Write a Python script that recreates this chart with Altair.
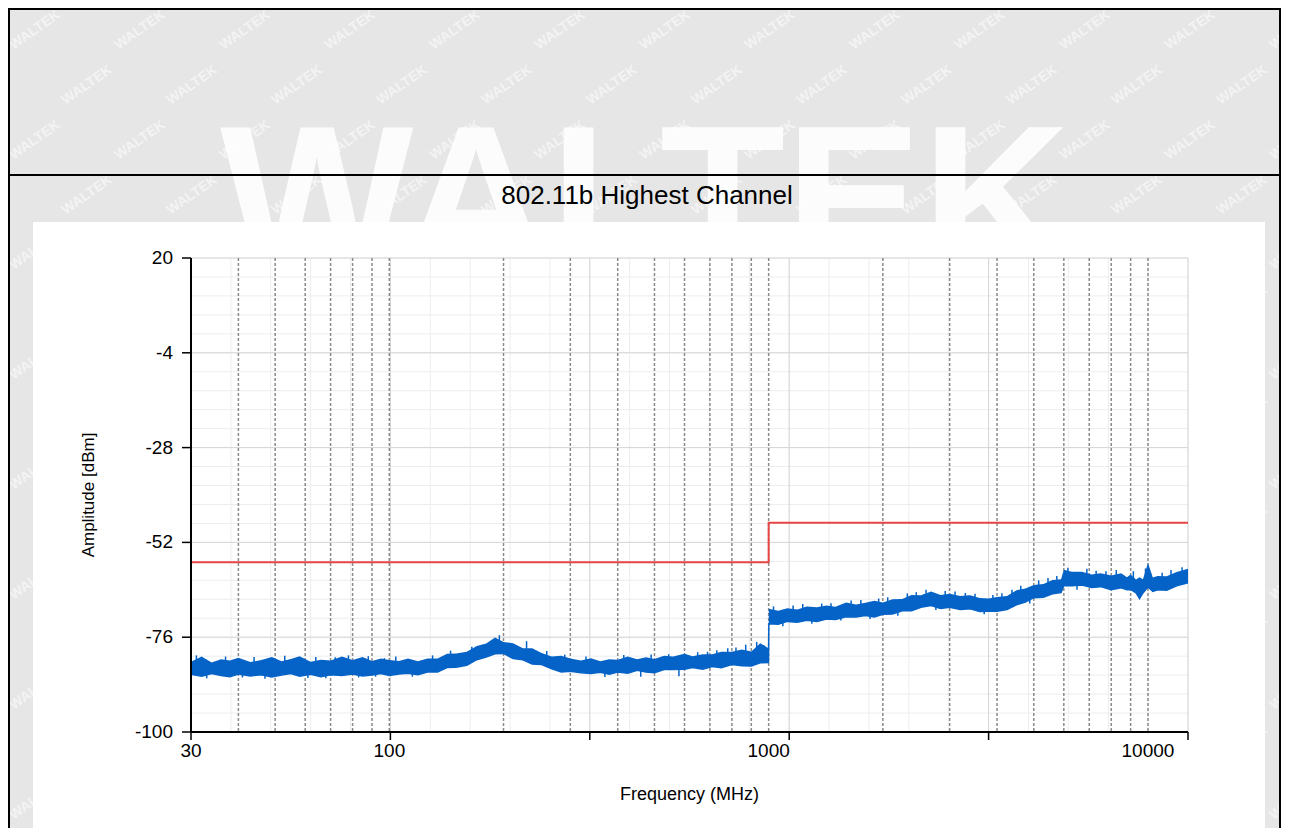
import altair as alt
import pandas as pd

# ---------------- data ----------------
FREQ_A = [30, 32, 34, 36, 38, 40, 43, 46, 49, 52, 55, 58, 62, 66, 70, 75, 80, 85, 90, 95, 100]
HI_A = [-82.2, -80.9, -82.4, -81.6, -81.9, -81.2, -82.3, -81.8, -81.0, -82.1, -81.5, -80.8,
        -82.2, -81.7, -81.9, -80.9, -81.8, -81.0, -82.0, -81.4, -81.8]
LO_A = [-85.4, -85.9, -85.2, -85.7, -86.0, -85.3, -85.8, -85.5, -86.1, -85.6, -85.2, -85.9,
        -85.4, -86.0, -85.5, -85.7, -85.3, -85.8, -85.6, -85.2, -85.7]

FREQ_B = [106, 112, 119, 126, 134, 142, 150, 160, 170, 180, 190, 200, 212, 225, 238, 252, 268,
          284, 300, 320, 340, 360, 380, 400, 425, 450, 475, 500, 530, 560, 600, 630, 670, 710,
          750, 800, 850, 900, 950, 999]
HI_B = [-82.0, -81.4, -82.1, -81.4, -81.4, -80.2, -80.1, -79.7, -78.2, -77.6, -76.1, -77.2,
        -77.5, -78.8, -78.8, -80.0, -80.9, -80.7, -81.4, -81.9, -81.3, -82.1, -81.6, -81.7,
        -80.9, -81.6, -81.1, -81.5, -80.7, -80.9, -80.2, -80.8, -80.3, -80.3, -79.7, -79.7,
        -79.1, -79.6, -77.5, -78.8]
LO_B = [-85.3, -85.1, -85.5, -84.8, -84.8, -83.7, -83.6, -83.1, -81.7, -81.0, -80.2, -80.1,
        -81.4, -81.7, -82.8, -82.9, -84.0, -84.8, -84.6, -85.0, -85.2, -84.9, -85.4, -84.8,
        -85.1, -84.4, -84.8, -85.0, -84.2, -84.2, -84.1, -83.7, -84.1, -83.4, -83.7, -82.9,
        -83.2, -83.3, -82.5, -82.4]

FREQ_C = [1001, 1060, 1120, 1190, 1260, 1340, 1420, 1500, 1600, 1700, 1800, 1900, 2000, 2120,
          2250, 2380, 2520, 2680, 2840, 3000, 3200, 3400, 3600, 3800, 4000, 4250, 4500, 4750,
          5000, 5300, 5600, 5900, 6000, 6300, 6700, 7100, 7500, 8000, 8500, 8800, 9000, 9300,
          9500, 9700, 10000, 10300, 10600, 11200, 11900, 12750]
HI_C = [-68.8, -69.3, -68.7, -69.0, -68.2, -68.4, -68.0, -68.3, -67.2, -67.7, -67.3, -66.8,
        -67.2, -66.4, -66.3, -65.3, -65.4, -64.4, -65.3, -65.0, -65.6, -65.4, -66.1, -66.2,
        -65.8, -65.6, -64.1, -63.7, -62.8, -62.5, -61.5, -61.3, -58.9, -59.4, -59.4, -60.1,
        -59.8, -60.4, -59.8, -60.8, -60.1, -61.4, -60.8, -61.3, -57.2, -60.9, -60.5, -60.6,
        -59.5, -58.7]
LO_C = [-72.6, -72.7, -72.0, -72.2, -71.7, -72.0, -71.4, -71.5, -70.8, -70.9, -70.5, -70.9,
        -70.2, -70.1, -69.3, -69.3, -68.4, -68.0, -68.7, -68.4, -69.0, -68.8, -69.5, -69.4,
        -69.4, -69.0, -67.8, -67.1, -66.0, -65.9, -65.0, -64.7, -62.9, -63.0, -62.8, -63.4,
        -63.2, -64.0, -63.5, -64.0, -63.9, -64.8, -66.2, -64.8, -63.3, -64.4, -64.0, -64.1,
        -63.0, -62.2]

# short noise spikes seen on the trace edges
SPIKE_F = [31, 33, 37, 41, 44, 47, 53, 57, 61, 64, 68, 72, 78, 83, 88, 92, 97,
           104, 115, 130, 145, 165, 195, 230, 260, 290, 330, 370, 415, 460, 490, 545, 580, 650,
           690, 730, 780, 820, 870, 930, 970,
           1030, 1090, 1160, 1230, 1300, 1380, 1460, 1550, 1650, 1750, 1850, 1950, 2060, 2190,
           2320, 2450, 2600, 2760, 2920, 3100, 3300, 3500, 3700, 3900, 4120, 4380, 4620, 4880,
           5150, 5450, 5750, 6150, 6500, 6900, 7300, 7750, 8250, 9150, 9850, 10150, 10900, 11500,
           12300]
SPIKE_FROM = [-83.8, -83.8, -83.8, -83.8, -83.8, -83.8, -83.8, -83.8, -83.8, -83.8, -83.8,
              -83.8, -83.8, -83.8, -83.8, -83.8, -83.8,
              -83.6, -83.5, -83.1, -82.6, -81.3, -78.5, -80.0, -82.0, -83.0, -83.5, -83.4,
              -83.2, -83.1, -83.0, -82.7, -82.6, -82.2, -82.2, -81.9, -81.7, -81.5, -81.3,
              -81.1, -80.9,
              -70.9, -70.7, -70.5, -70.3, -70.1, -69.9, -69.7, -69.5, -69.3, -69.1, -68.9, -68.7,
              -68.4, -68.1, -67.6, -67.1, -66.6, -66.5, -66.8, -67.0, -67.3, -67.5, -67.8, -67.8,
              -67.3, -66.6, -65.7, -64.9, -64.2, -63.7, -63.2, -61.1, -61.2, -61.4, -61.7, -62.0,
              -62.0, -62.0, -62.0, -62.6, -62.3, -61.8, -60.9]
SPIKE_TO = [-80.6, -86.4, -80.9, -86.2, -81.0, -86.5, -80.7, -81.2, -86.3, -81.0, -86.4,
            -81.1, -80.6, -86.2, -80.8, -86.0, -81.3,
            -80.9, -86.0, -80.6, -79.4, -78.4, -75.5, -77.0, -79.5, -80.4, -80.9, -86.1,
            -80.5, -86.0, -80.4, -80.3, -85.9, -79.8, -79.7, -79.3, -78.8, -78.6, -77.9,
            -77.2, -78.0,
            -68.2, -73.2, -68.0, -67.6, -72.6, -67.5, -67.4, -71.8, -66.7, -66.6, -71.4, -66.2,
            -65.9, -70.6, -64.9, -64.6, -64.0, -69.1, -64.3, -64.4, -64.8, -65.0, -70.2, -65.3,
            -64.9, -64.0, -63.0, -67.5, -61.6, -61.0, -60.5, -58.4, -64.0, -58.7, -59.2, -59.3,
            -59.0, -59.3, -58.6, -59.8, -59.7, -59.0, -58.3]

LIMIT_FREQ = [30, 1000, 1000, 12750]
LIMIT_DBM = [-57, -57, -47, -47]

X_LABELS = [30, 100, 1000, 10000]
X_LABEL_TEXT = ["30", "100", "1000", "10000"]
Y_LABELS = [20, -4, -28, -52, -76, -100]
Y_LABEL_TEXT = ["20", "-4", "-28", "-52", "-76", "-100"]
DASHED = [40, 50, 60, 70, 80, 90, 100, 200, 300, 400, 500, 600, 700, 800, 900, 1000,
          2000, 3000, 4000, 5000, 6000, 7000, 8000, 9000, 10000]

TITLE = "802.11b Highest Channel"
X_TITLE = "Frequency (MHz)"
Y_TITLE = "Amplitude [dBm]"

# ---------------- layout ----------------
X_MIN, X_MAX = 30, 12750
Y_MIN, Y_MAX = -100, 20
OX, OY = 191, 258            # plot origin on the page
W, H = 997, 474              # plot area
PAD = {"left": OX - 8, "top": OY - 8, "right": 1281 - (OX + W), "bottom": 828 - (OY + H)}

ratio = (X_MAX / X_MIN) ** (1 / 5)
x_major = [X_MIN * ratio ** k for k in range(6)]
x_minor = [X_MIN * ratio ** (k / 5) for k in range(26)]
y_major = [Y_MIN + 24 * k for k in range(6)]
y_minor = [Y_MIN + 4.8 * k for k in range(26)]

xs = alt.Scale(type="log", domain=[X_MIN, X_MAX], nice=False)
ys = alt.Scale(domain=[Y_MIN, Y_MAX], nice=False, zero=False)

trace = pd.DataFrame({"f": FREQ_A + FREQ_B + FREQ_C,
                      "lo": LO_A + LO_B + LO_C,
                      "hi": HI_A + HI_B + HI_C})
spikes = pd.DataFrame({"f": SPIKE_F, "a": SPIKE_FROM, "b": SPIKE_TO})
limit = pd.DataFrame({"f": LIMIT_FREQ, "v": LIMIT_DBM})

# watermark lattice: page pixels converted to the chart's data space
def page_to_data(px, py):
    fx = X_MIN * ratio ** ((px - OX) / (W / 5))
    vy = Y_MAX - (py - OY) * (Y_MAX - Y_MIN) / H
    return fx, vy

wm = []
for j in range(16):
    for i in range(-1, 14):
        fx, vy = page_to_data(35 + i * 105 + (j % 2) * 52, 30 + j * 55)
        wm.append({"wf": fx, "wv": vy})
wm = pd.DataFrame(wm)

FONT = "Liberation Sans"
BLUE = "#0563c8"

def one():
    return alt.Chart(pd.DataFrame({"a": [0]}))

wm_small = alt.Chart(wm).mark_text(
    text="WALTEK", angle=325, fontSize=14, fontWeight="bold", font=FONT,
    color="white", opacity=0.55
).encode(x=alt.X("wf:Q", scale=xs, axis=None), y=alt.Y("wv:Q", scale=ys, axis=None))

wm_big = one().mark_text(
    text="WALTEK", fontSize=205, fontWeight="bold", font=FONT, color="white", opacity=0.9,
    align="center", baseline="alphabetic"
).encode(x=alt.value(645 - OX), y=alt.value(268 - OY))

def hline(y, x0, x1, color="black", width=2):
    return one().mark_rule(color=color, strokeWidth=width).encode(
        x=alt.value(x0), x2=alt.value(x1), y=alt.value(y))

def vline(x, y0, y1, color="black", width=2):
    return one().mark_rule(color=color, strokeWidth=width).encode(
        x=alt.value(x), y=alt.value(y0), y2=alt.value(y1))

borders = [hline(-PAD["top"] + 1, -PAD["left"], W + PAD["right"]),
           hline(175 - OY, -PAD["left"], W + PAD["right"]),
           vline(-PAD["left"] + 1, -PAD["top"], H + PAD["bottom"]),
           vline(W + PAD["right"] - 1, -PAD["top"], H + PAD["bottom"])]

box = one().mark_rect(color="white").encode(
    x=alt.value(33 - OX), x2=alt.value(1265 - OX), y=alt.value(222 - OY), y2=alt.value(828 - OY))

title = one().mark_text(
    text=TITLE, fontSize=26, font=FONT, color="black", align="center", baseline="middle"
).encode(x=alt.value(647 - OX), y=alt.value(196 - OY))

def vrules(vals, color, width, dash=None):
    kw = dict(color=color, strokeWidth=width)
    if dash:
        kw["strokeDash"] = dash
    return alt.Chart(pd.DataFrame({"v": vals})).mark_rule(**kw).encode(
        x=alt.X("v:Q", scale=xs, axis=None))

def hrules(vals, color, width):
    return alt.Chart(pd.DataFrame({"v": vals})).mark_rule(color=color, strokeWidth=width).encode(
        y=alt.Y("v:Q", scale=ys, axis=None))

grid = [hrules(y_minor, "#ededed", 1), vrules(x_minor, "#ededed", 1),
        hrules(y_major, "#d6d6d6", 1), vrules(x_major, "#d6d6d6", 1),
        vrules(DASHED, "#8a8a8a", 1.5, [3, 2])]

# ---- axes: domain lines, ticks, labels and titles ----
x_domain = hline(H, 0, W, width=2)
y_domain = vline(0, 0, H, width=2)

xticks = alt.Chart(pd.DataFrame({"v": x_major})).mark_rule(color="black", strokeWidth=1.5).encode(
    x=alt.X("v:Q", scale=xs, axis=None), y=alt.value(H), y2=alt.value(H + 8))

yticks = alt.Chart(pd.DataFrame({"v": Y_LABELS})).mark_rule(color="black", strokeWidth=1.5).encode(
    y=alt.Y("v:Q", scale=ys, axis=None), x=alt.value(-9), x2=alt.value(0))

xlabels = alt.Chart(pd.DataFrame({"v": X_LABELS, "t": X_LABEL_TEXT})).mark_text(
    font=FONT, fontSize=19, color="black", align="center", baseline="top"
).encode(x=alt.X("v:Q", scale=xs, axis=None), y=alt.value(H + 10), text="t:N")

ylabels = alt.Chart(pd.DataFrame({"v": Y_LABELS, "t": Y_LABEL_TEXT})).mark_text(
    font=FONT, fontSize=19, color="black", align="right", baseline="middle"
).encode(y=alt.Y("v:Q", scale=ys, axis=None), x=alt.value(-18), text="t:N")

xtitle = one().mark_text(
    text=X_TITLE, font=FONT, fontSize=18, color="black", align="center", baseline="middle"
).encode(x=alt.value(W / 2), y=alt.value(795 - OY))

ytitle = one().mark_text(
    text=Y_TITLE, font=FONT, fontSize=17, color="black", align="center", baseline="middle",
    angle=270
).encode(x=alt.value(89 - OX), y=alt.value(H / 2))

# ---- data marks ----
band = alt.Chart(trace).mark_area(color=BLUE, opacity=1,
                                  line={"color": BLUE, "strokeWidth": 1.5}).encode(
    x=alt.X("f:Q", scale=xs, axis=None),
    y=alt.Y("lo:Q", scale=ys, axis=None),
    y2="hi:Q")

spike = alt.Chart(spikes).mark_rule(color=BLUE, strokeWidth=1.5).encode(
    x=alt.X("f:Q", scale=xs, axis=None), y=alt.Y("a:Q", scale=ys, axis=None), y2="b:Q")

red = alt.Chart(limit).mark_line(color="#e84646", strokeWidth=2).encode(
    x=alt.X("f:Q", scale=xs, axis=None), y=alt.Y("v:Q", scale=ys, axis=None))

chart = alt.layer(
    wm_small, wm_big, box, *borders, title, *grid,
    band, spike, red,
    x_domain, y_domain, xticks, yticks, xlabels, ylabels, xtitle, ytitle
).properties(
    width=W, height=H, padding=PAD, autosize=alt.AutoSizeParams(type="none"),
    background="#e6e6e6"
).configure_view(stroke=None)

chart.save("out.html", embed_options={"renderer": "svg", "actions": False})
